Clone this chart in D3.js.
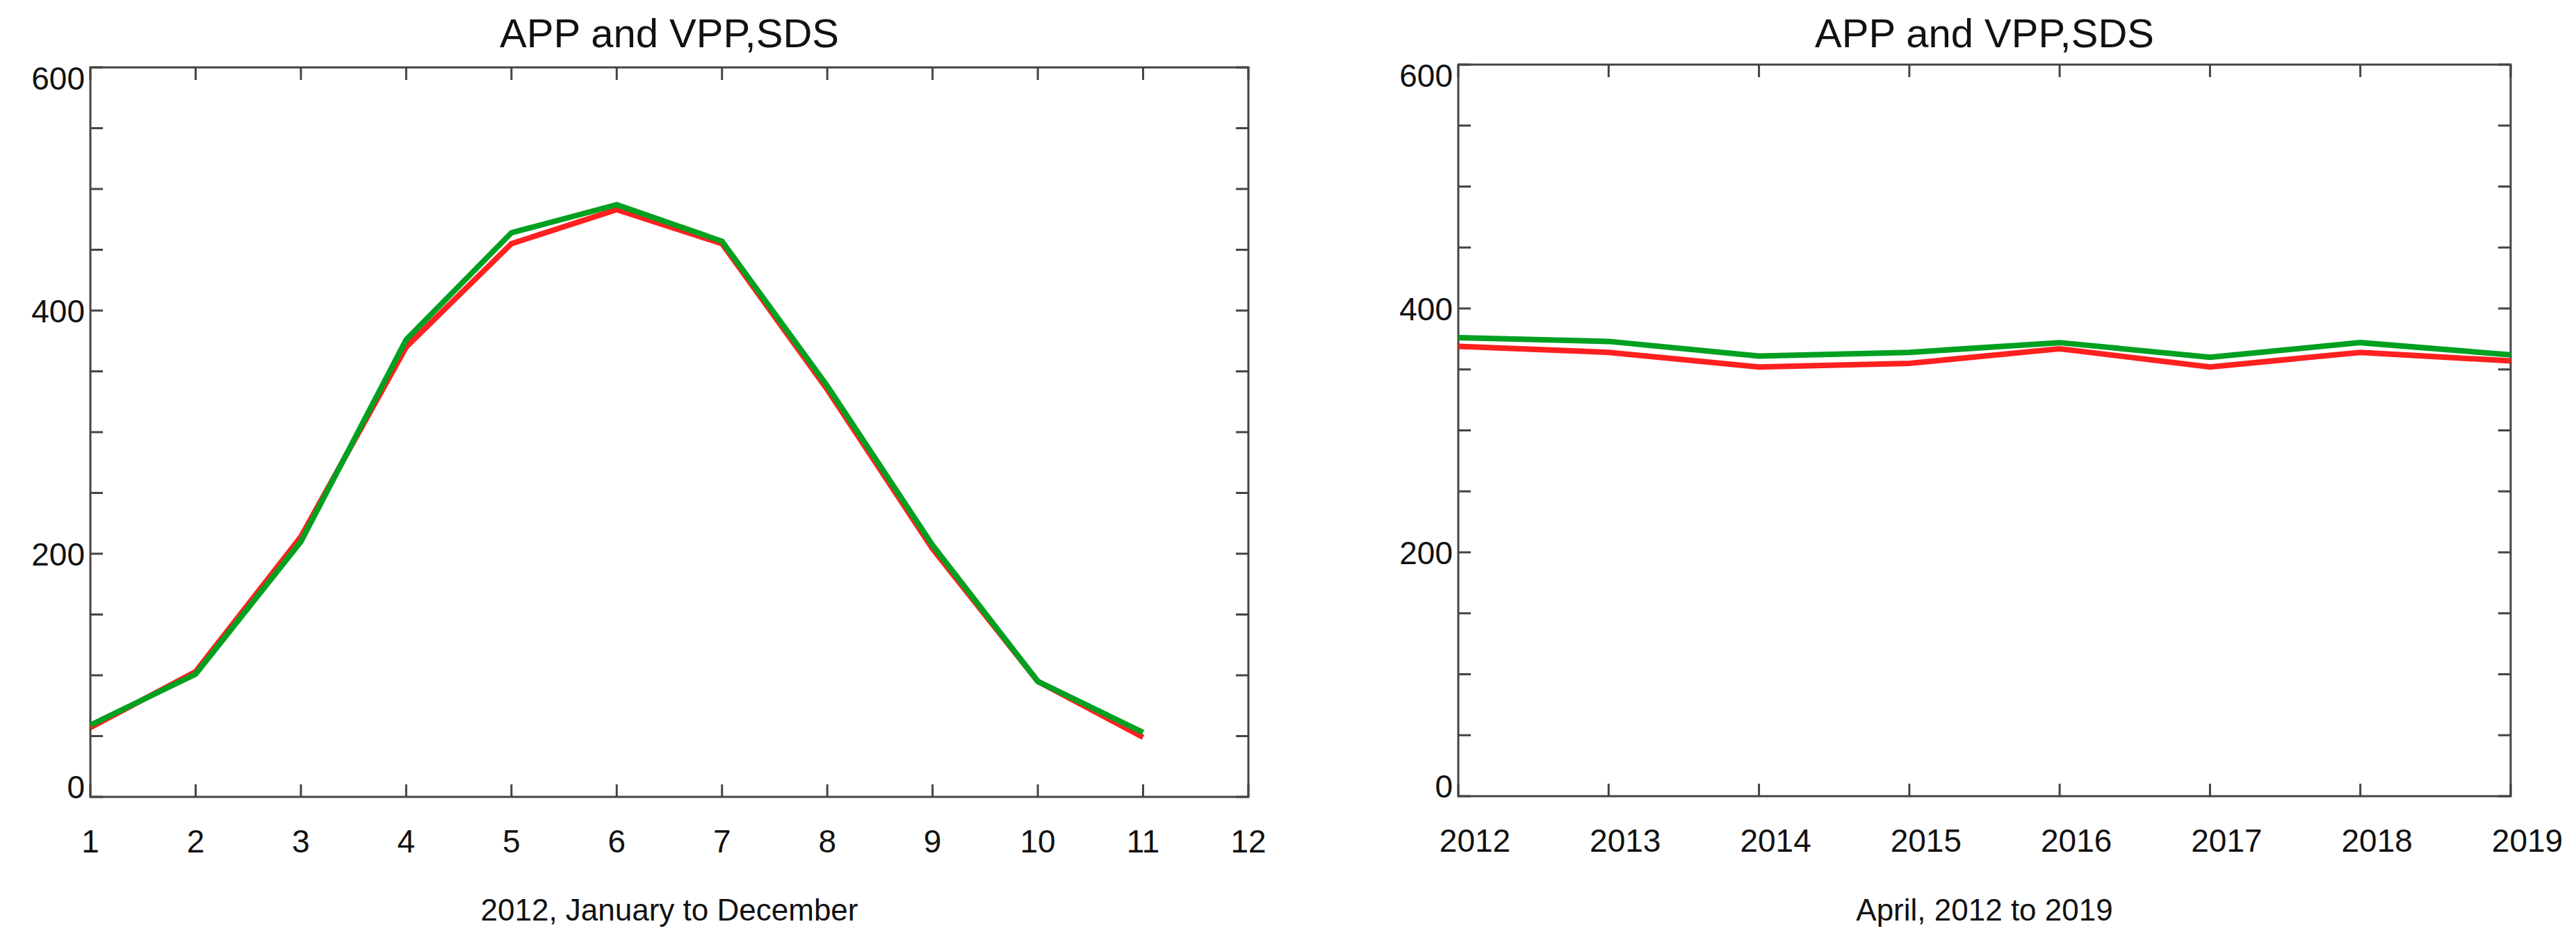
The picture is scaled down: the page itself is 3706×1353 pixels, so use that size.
<!DOCTYPE html>
<html><head><meta charset="utf-8">
<script src="https://cdn.jsdelivr.net/npm/d3@7"></script>
<style>body{margin:0;background:#fff}text{font-family:"Liberation Sans",Arial,sans-serif;fill:#111}</style>
</head><body><svg id="c" width="3706" height="1353"></svg>
<script>
const months=[1,2,3,4,5,6,7,8,9,10,11];
const monthRed=[57,103,214,370,455,483,455,335,204,95,49];
const monthGreen=[59,101,210,376,464,487,457,338,207,95,53];
const years=[2012,2013,2014,2015,2016,2017,2018,2019];
const yearRed=[369,364,352,355,367,352,364,357];
const yearGreen=[376,373,361,364,372,360,372,362];
const yTicks=[0,200,400,600];
const svg=d3.select("#c");
function panel(o){
  const g=svg.append("g");
  const x=d3.scaleLinear().domain(o.xd).range([o.l,o.r]);
  const y=d3.scaleLinear().domain([0,600]).range([o.b,o.t]);
  const tl=18, col="#444";
  g.append("rect").attr("x",o.l).attr("y",o.t).attr("width",o.r-o.l).attr("height",o.b-o.t).attr("fill","none").attr("stroke",col).attr("stroke-width",3);
  const minor=d3.range(0,601,50);
  g.selectAll(".yl").data(minor).join("line").attr("x1",o.l).attr("x2",o.l+tl).attr("y1",d=>y(d)).attr("y2",d=>y(d)).attr("stroke",col).attr("stroke-width",3);
  g.selectAll(".yr").data(minor).join("line").attr("x1",o.r).attr("x2",o.r-tl).attr("y1",d=>y(d)).attr("y2",d=>y(d)).attr("stroke",col).attr("stroke-width",3);
  g.selectAll(".xb").data(o.xt).join("line").attr("x1",d=>x(d)).attr("x2",d=>x(d)).attr("y1",o.b).attr("y2",o.b-tl).attr("stroke",col).attr("stroke-width",3);
  g.selectAll(".xt").data(o.xt).join("line").attr("x1",d=>x(d)).attr("x2",d=>x(d)).attr("y1",o.t).attr("y2",o.t+tl).attr("stroke",col).attr("stroke-width",3);
  g.selectAll(".ytl").data(yTicks).join("text").attr("x",o.l-8).attr("y",d=>y(d)+(d===0?2:d===600?32:17)).attr("text-anchor","end").attr("font-size",46).text(d=>d);
  g.selectAll(".xtl").data(o.xt).join("text").attr("x",d=>x(d)+o.dx).attr("y",o.b+80).attr("text-anchor","middle").attr("font-size",46).text(d=>d);
  g.append("text").attr("x",(o.l+o.r)/2).attr("y",68).attr("text-anchor","middle").attr("font-size",58).text("APP and VPP,SDS");
  g.append("text").attr("x",(o.l+o.r)/2).attr("y",1325).attr("text-anchor","middle").attr("font-size",44).text(o.xlab);
  const line=d3.line().x(d=>x(d[0])).y(d=>y(d[1]));
  g.append("path").attr("d",line(o.xs.map((v,i)=>[v,o.red[i]]))).attr("fill","none").attr("stroke","#ff2020").attr("stroke-width",8);
  g.append("path").attr("d",line(o.xs.map((v,i)=>[v,o.green[i]]))).attr("fill","none").attr("stroke","#00a020").attr("stroke-width",8);
}
panel({l:130,r:1796,t:97,b:1147,xd:[1,12],xt:d3.range(1,13),xs:months,red:monthRed,green:monthGreen,xlab:"2012, January to December",dx:0});
panel({l:2098,r:3612,t:93,b:1146,xd:[2012,2019],xt:years,xs:years,red:yearRed,green:yearGreen,xlab:"April, 2012 to 2019",dx:24});
</script></body></html>
